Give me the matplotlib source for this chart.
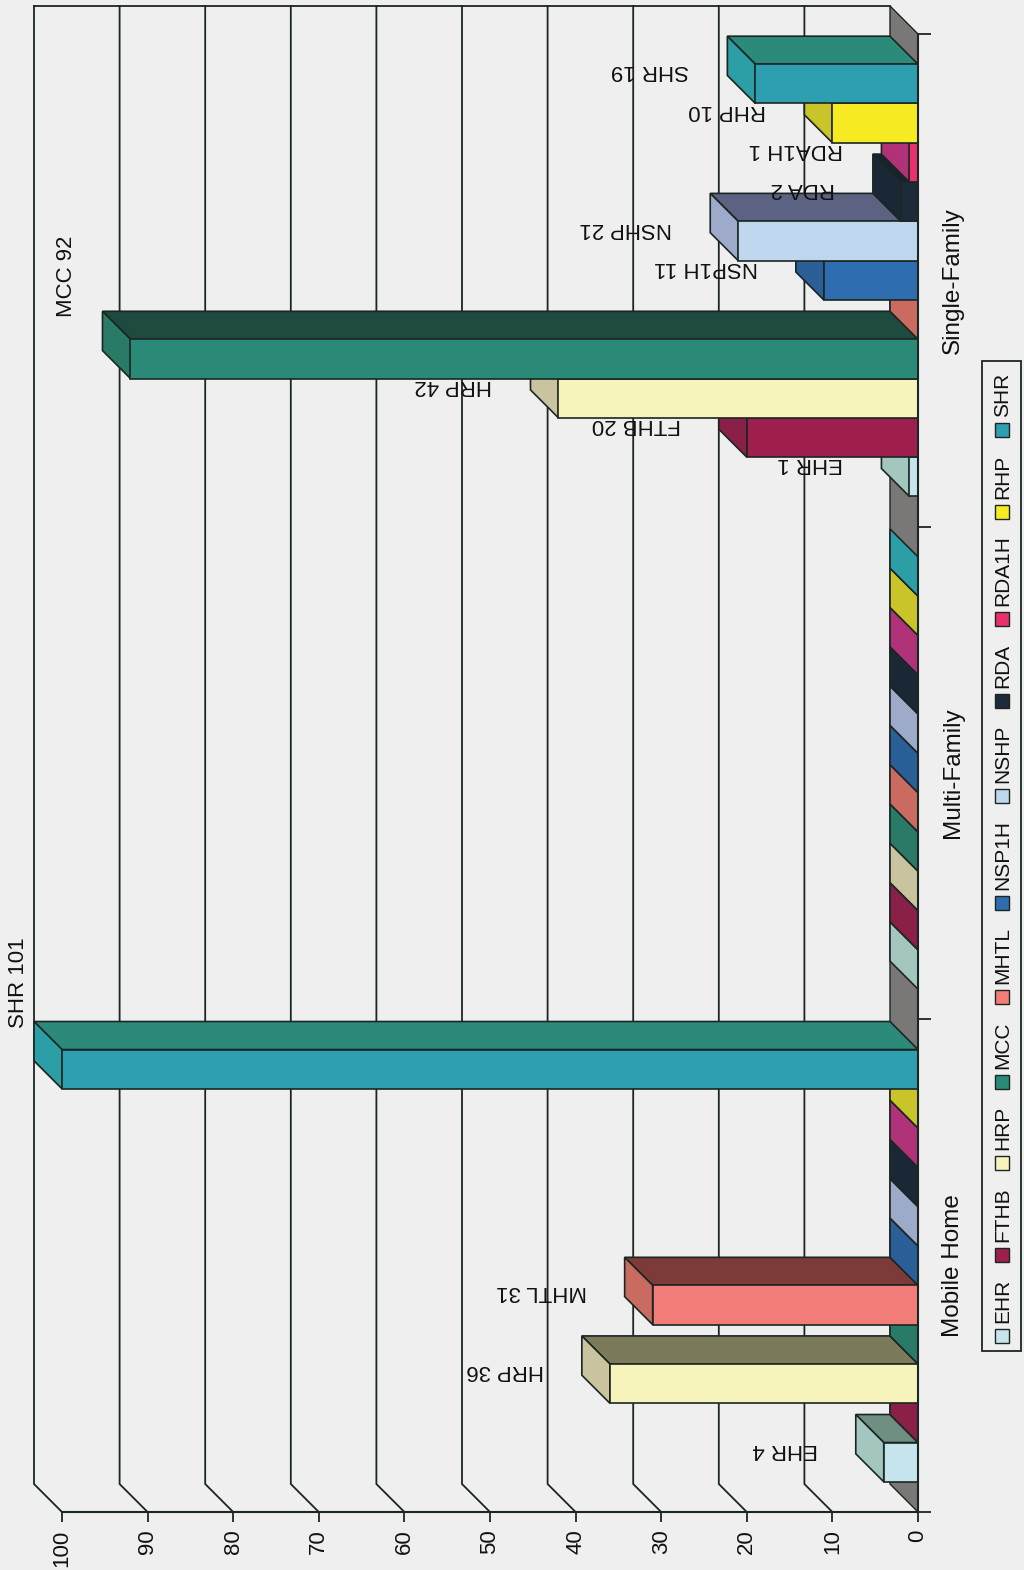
import matplotlib
matplotlib.use("Agg")
import matplotlib.pyplot as plt
from matplotlib.patches import Polygon, Rectangle

plt.rcParams['font.family'] = ['Liberation Sans', 'DejaVu Sans']

# ---- data -------------------------------------------------------------
categories = ["Mobile Home", "Multi-Family", "Single-Family"]
series = ["EHR", "FTHB", "HRP", "MCC", "MHTL", "NSP1H", "NSHP", "RDA", "RDA1H", "RHP", "SHR"]
mobile_home = [4, 0, 36, 0, 31, 0, 0, 0, 0, 0, 101]
multi_family = [0, 0, 0, 0, 0, 0, 0, 0, 0, 0, 0]
single_family = [1, 20, 42, 92, 0, 11, 21, 2, 1, 10, 19]
value_ticks = [0, 10, 20, 30, 40, 50, 60, 70, 80, 90, 100]

# ---- styling ----------------------------------------------------------
front_colors = ['#c6e4ec', '#9e1f4e', '#f7f4bb', '#2b8a77', '#f27c78', '#2e6db0',
                '#bed6ee', '#1c2a3a', '#e8306a', '#f6ea22', '#2e9fb1']
depth_colors = ['#6f8f83', '#7a1d3c', '#7b7a5a', '#1e4a40', '#7c3b38', '#2a5d8e',
                '#5c6282', '#18222e', '#a02e64', '#a8a628', '#2c8a7a']
end_colors = ['#a3c7bf', '#8a2048', '#c9c49f', '#2a7a68', '#c96b60', '#2a5f98',
              '#9eaac9', '#1a2836', '#b03278', '#c9c42a', '#2b9ea6']
PAPER = '#efeff0'
FLOOR = '#7a7877'
INK = '#1b2622'

W, H = 1024, 1570
AX_LEFT, AX_RIGHT, AX_TOP, AX_BOTTOM = 62, 918, 34, 1512   # front plane, pixels
DEPTH = 28                                                  # 3-D depth, pixels
VALUE_MAX = 100

fig = plt.figure(figsize=(W / 100, H / 100), dpi=100, facecolor=PAPER)
ax = fig.add_axes([AX_LEFT / W, (H - AX_BOTTOM) / H,
                   (AX_RIGHT - AX_LEFT) / W, (AX_BOTTOM - AX_TOP) / H])
ax.patch.set_alpha(0)
ax.set_xlim(VALUE_MAX, 0)
ax.set_ylim(0, len(categories))

# depth offset expressed in data units
dv = DEPTH / ((AX_RIGHT - AX_LEFT) / VALUE_MAX)
dc = DEPTH / ((AX_BOTTOM - AX_TOP) / len(categories))
ncat = len(categories)

# back wall gridlines and the side-wall diagonals
for v in value_ticks[1:]:
    ax.plot([v + dv, v + dv, v], [ncat + dc, dc, 0], color=INK, lw=1.3,
            clip_on=False, zorder=1, solid_joinstyle='miter')
ax.plot([dv, VALUE_MAX + dv], [ncat + dc, ncat + dc], color=INK, lw=1.3,
        clip_on=False, zorder=1)

# floor (value 0 plane)
ax.add_patch(Polygon([(0, 0), (0, ncat), (dv, ncat + dc), (dv, dc)], closed=True,
                     facecolor=FLOOR, edgecolor=INK, lw=1.0, clip_on=False, zorder=2))

# bars
nser = len(series)
bw = 39.3 / ((AX_BOTTOM - AX_TOP) / ncat)
gap = (1 - nser * bw) / 2
groups = [mobile_home, multi_family, single_family]
z = 3
label_specs = []
for gi, vals in enumerate(groups):
    for si, v in enumerate(vals):
        y0 = gi + gap + si * bw
        y1 = y0 + bw
        ve = min(v, VALUE_MAX)
        kw = dict(closed=True, edgecolor=INK, lw=1.2, clip_on=False,
                  joinstyle='miter')
        if ve > 0:
            ax.add_patch(Polygon([(0, y1), (ve, y1), (ve + dv, y1 + dc), (dv, y1 + dc)],
                                 facecolor=depth_colors[si], zorder=z, **kw))
        ax.add_patch(Polygon([(ve, y0), (ve, y1), (ve + dv, y1 + dc), (ve + dv, y0 + dc)],
                             facecolor=end_colors[si], zorder=z, **kw))
        if ve > 0:
            ax.add_patch(Polygon([(0, y0), (ve, y0), (ve, y1), (0, y1)],
                                 facecolor=front_colors[si], zorder=z, **kw))
            label_specs.append((series[si], v, ve, y0, y1))
        z += 0.01

# value labels
for name, v, ve, y0, y1 in label_specs:
    text = f"{name} {v}"
    if v > 90:
        # tall bars: upright label beyond the end of the bar, kept inside the page
        px, py = ax.transData.transform((ve + dv, y1 + dc))
        px = max(px - 36, 19)
        fig.text(px / W, (py - 6) / H, text, rotation=90, ha='center',
                 va='bottom', fontsize=16, color='#111111', zorder=20)
    else:
        ax.annotate(text, xy=(ve + dv, (y0 + y1) / 2), xytext=(-38, 13),
                    textcoords='offset pixels', rotation=180, ha='right',
                    va='center', fontsize=16, color='#111111',
                    annotation_clip=False, zorder=20)

# axes lines and ticks
for side in ('left', 'top'):
    ax.spines[side].set_visible(False)
for side in ('bottom', 'right'):
    ax.spines[side].set_color(INK)
    ax.spines[side].set_linewidth(1.5)
    ax.spines[side].set_zorder(30)

ax.set_xticks(value_ticks)
ax.set_xticklabels([str(t) for t in value_ticks])
ax.tick_params(axis='x', direction='out', length=7.5, width=1.3, color=INK,
               pad=5, labelsize=16, labelrotation=90, labelcolor='#111111')

ax.yaxis.set_ticks_position('right')
ax.set_yticks(range(ncat + 1))
ax.set_yticklabels([''] * (ncat + 1))
ax.set_yticks([i + 0.5 for i in range(ncat)], categories, minor=True)
ax.tick_params(axis='y', which='major', direction='out', length=9, width=1.3, color=INK)
ax.tick_params(axis='y', which='minor', length=0, pad=17, labelsize=17.5,
               labelrotation=90, labelcolor='#111111')
for lab in ax.get_yticklabels(minor=True):
    lab.set_verticalalignment('center')

# legend (rotated, laid out bottom to top)
LEG_X0, LEG_X1, LEG_TOP, LEG_BOTTOM = 982, 1021, 361, 1351
fig.add_artist(Rectangle((LEG_X0 / W, (H - LEG_BOTTOM) / H),
                         (LEG_X1 - LEG_X0) / W, (LEG_BOTTOM - LEG_TOP) / H,
                         transform=fig.transFigure, facecolor='none',
                         edgecolor=INK, lw=1.3))
renderer = fig.canvas.get_renderer()
SQ = 14
texts = []
for name in series:
    t = fig.text(1003 / W, 0, name, rotation=90, ha='center', va='bottom',
                 fontsize=15, color='#111111')
    texts.append(t)
heights = [t.get_window_extent(renderer).height for t in texts]
span = (LEG_BOTTOM - 8) - (LEG_TOP + 12)
inner = 6
between = (span - sum(heights) - nser * (SQ + inner)) / (nser - 1)
y = H - (LEG_BOTTOM - 8)
for si, t in enumerate(texts):
    fig.add_artist(Rectangle((995 / W, y / H), SQ / W, SQ / H,
                             transform=fig.transFigure, facecolor=front_colors[si],
                             edgecolor=INK, lw=1.0))
    t.set_position((1003 / W, (y + SQ + inner) / H))
    y += SQ + inner + heights[si] + between

fig.savefig("out.png", dpi=100, facecolor=PAPER)
